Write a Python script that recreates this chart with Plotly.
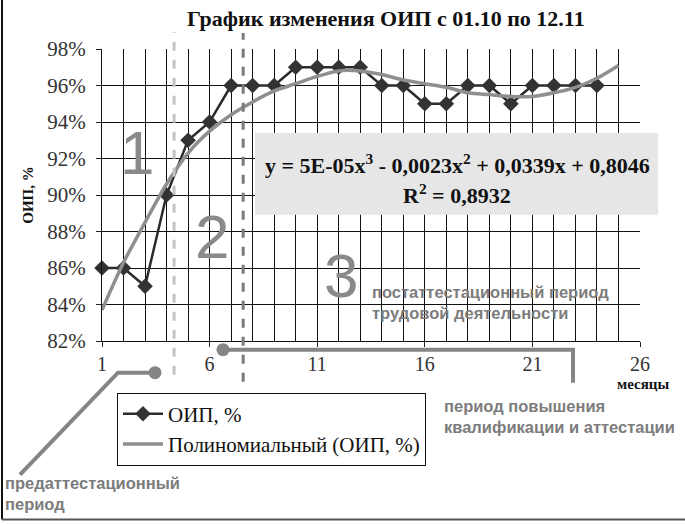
import plotly.graph_objects as go

# ── данные ────────────────────────────────────────────────────────────────────
months = list(range(1, 25))
oip = [86, 86, 85, 90, 93, 94, 96, 96, 96, 97, 97, 97,
       97, 96, 96, 95, 95, 96, 96, 95, 96, 96, 96, 96]

trend_x = list(range(1, 26))
trend_y = [83.7, 86.3, 88.5, 90.6, 92.3, 93.5, 94.4, 95.1, 95.7, 96.1, 96.5, 96.8,
           96.8, 96.6, 96.3, 96.1, 95.9, 95.6, 95.5, 95.4, 95.4, 95.6, 95.9, 96.4, 97.1]

y_ticks = [82, 84, 86, 88, 90, 92, 94, 96, 98]
y_labels = [f"{v}%" for v in y_ticks]
x_ticks = [1, 6, 11, 16, 21, 26]
split_pre, split_post = 4.35, 7.56   # границы периодов (пунктир)

# ── пиксели -> paper ───────────────────────────────────────────────────────────
L, R, T, B = 102, 640, 49, 341.3
W, H = 685, 524


def px(x):
    return (x - L) / (R - L)


def py(y):
    return (B - y) / (B - T)


GRAY = "#858585"
SERIF = "Liberation Serif, Times New Roman, serif"
SANS = "Liberation Sans, Arial, sans-serif"

fig = go.Figure()
fig.add_trace(go.Scatter(
    x=months, y=oip, mode="lines+markers", name="ОИП, %",
    line=dict(color="#2b2b2b", width=2.5),
    marker=dict(symbol="diamond", size=12, color="#333333"),
    cliponaxis=False,
))
fig.add_trace(go.Scatter(
    x=trend_x, y=trend_y, mode="lines", name="Полиномиальный (ОИП, %)",
    line=dict(color="#8f8f8f", width=3.5, shape="spline", smoothing=0.8),
    cliponaxis=False,
))

shapes = []
# плашка с уравнением
shapes.append(dict(type="rect", xref="paper", yref="paper",
                   x0=px(255), x1=px(658), y0=py(215), y1=py(133),
                   fillcolor="#e6e6e6", line=dict(width=0), layer="above"))
# пунктирные границы
shapes.append(dict(type="line", xref="x", yref="paper", x0=split_pre, x1=split_pre,
                   y0=py(375), y1=py(32), line=dict(color="#c4c4c4", width=3, dash="dash")))
shapes.append(dict(type="line", xref="x", yref="paper", x0=split_post, x1=split_post,
                   y0=py(382), y1=py(33), line=dict(color="#7a7a7a", width=3, dash="dash")))
# выноски
shapes.append(dict(type="path", xref="paper", yref="paper",
                   path=f"M {px(20)} {py(475)} L {px(118)} {py(373)} L {px(152)} {py(373)}",
                   line=dict(color=GRAY, width=4)))
shapes.append(dict(type="path", xref="paper", yref="paper",
                   path=f"M {px(226)} {py(350)} L {px(573)} {py(350)} L {px(573)} {py(383)}",
                   line=dict(color=GRAY, width=4)))
for cx, cy in [(155, 373), (223, 350)]:
    shapes.append(dict(type="circle", xref="paper", yref="paper",
                       x0=px(cx - 6.5), x1=px(cx + 6.5), y0=py(cy + 6.5), y1=py(cy - 6.5),
                       fillcolor=GRAY, line=dict(width=0)))
# рамка картинки
shapes.append(dict(type="line", xref="paper", yref="paper", x0=px(2), x1=px(2),
                   y0=py(520), y1=py(0), line=dict(color="#111111", width=2)))
shapes.append(dict(type="line", xref="paper", yref="paper", x0=px(2), x1=px(685),
                   y0=py(520), y1=py(520), line=dict(color="#555555", width=2)))

ann = []


def note(text, x, y, size, color="#111111", family=SERIF, xanchor="center", yanchor="middle",
         align="center"):
    ann.append(dict(text=text, xref="paper", yref="paper", x=px(x), y=py(y),
                    showarrow=False, xanchor=xanchor, yanchor=yanchor, align=align,
                    font=dict(size=size, color=color, family=family)))


note("<b>График изменения ОИП с 01.10 по 12.11</b>", 386, 18, 22)
note("<b>y = 5E-05x<sup>3</sup> - 0,0023x<sup>2</sup> + 0,0339x + 0,8046</b>", 457, 164, 22)
note("<b>R<sup>2</sup> = 0,8932</b>", 457, 194, 22)
note("<b>месяцы</b>", 643, 384, 15)
note("1", 137, 153, 62, color="#8a8a8a", family=SANS)
note("2", 212, 237, 62, color="#8a8a8a", family=SANS)
note("3", 341, 276, 62, color="#8a8a8a", family=SANS)
note("<b>постаттестационный период<br>трудовой деятельности</b>", 370, 303, 16.5,
     color="#7c7c7c", family=SANS, xanchor="left", align="left")
note("<b>период повышения<br>квалификации и аттестации</b>", 442, 417, 16.5,
     color="#7c7c7c", family=SANS, xanchor="left", align="left")
note("<b>предаттестационный<br>период</b>", 3, 494, 16.5,
     color="#7c7c7c", family=SANS, xanchor="left", align="left")

fig.update_layout(
    width=W, height=H,
    margin=dict(l=L, r=W - R, t=T, b=H - B),
    paper_bgcolor="white", plot_bgcolor="white",
    shapes=shapes, annotations=ann,
    showlegend=True,
    legend=dict(x=px(117), y=py(393), xanchor="left", yanchor="top",
                bordercolor="#111111", borderwidth=1, bgcolor="white",
                font=dict(family=SERIF, size=21, color="#111111"),
                tracegroupgap=0, itemwidth=40),
)
fig.update_xaxes(
    range=[1, 26], tickvals=x_ticks, ticks="outside", ticklen=5, tickcolor="#222",
    showgrid=True, gridcolor="#111111", gridwidth=1,
    minor=dict(dtick=1, tick0=1, showgrid=True, gridcolor="#111111", gridwidth=1),
    showline=True, linecolor="#111111", linewidth=1,
    tickfont=dict(family=SERIF, size=20, color="#333333"), zeroline=False,
)
fig.update_yaxes(
    range=[82, 98], tickvals=y_ticks, ticktext=y_labels, ticks="outside", ticklen=5,
    tickcolor="#222", ticklabelstandoff=6,
    showgrid=True, gridcolor="#111111", gridwidth=1,
    showline=True, linecolor="#111111", linewidth=1,
    tickfont=dict(family=SERIF, size=21, color="#333333"), zeroline=False,
    title=dict(text="<b>ОИП, %</b>", font=dict(family=SERIF, size=15, color="#111111"),
               standoff=10),
)

fig.write_html("out.html", config={"displayModeBar": False},
               post_script="document.body.style.margin='0';")
